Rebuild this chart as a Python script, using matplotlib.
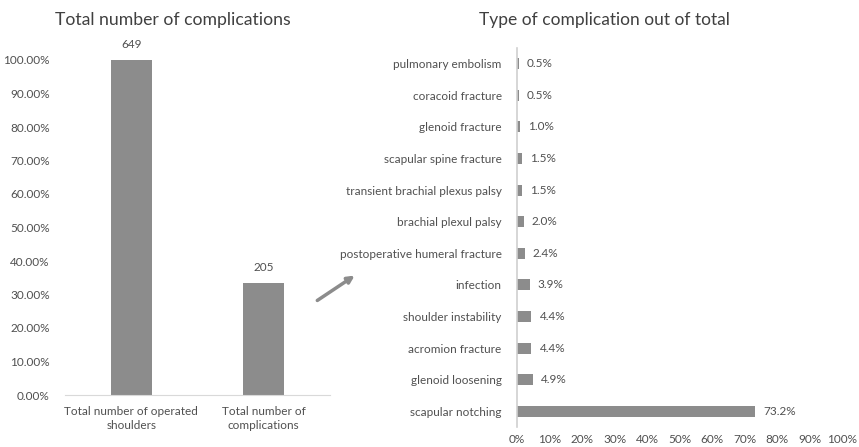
import matplotlib.pyplot as plt
import matplotlib.ticker as mticker

plt.rcParams['font.family'] = ['Lato', 'DejaVu Sans']

# left chart
left_labels = ['Total number of operated\nshoulders', 'Total number of\ncomplications']
left_pct = [100.0, 33.4]
left_counts = ['649', '205']

# right chart (bottom to top)
comp_labels = ['scapular notching', 'glenoid loosening', 'acromion fracture',
               'shoulder instability', 'infection', 'postoperative humeral fracture',
               'brachial plexul palsy', 'transient brachial plexus palsy',
               'scapular spine fracture', 'glenoid fracture', 'coracoid fracture',
               'pulmonary embolism']
comp_pct = [73.2, 4.9, 4.4, 4.4, 3.9, 2.4, 2.0, 1.5, 1.5, 1.0, 0.5, 0.5]

bar_c = '#8c8c8c'
txt_c = '#505050'

fig = plt.figure(figsize=(8.59, 4.47), dpi=100)

ax1 = fig.add_axes([65/859, 1-395/447, 265/859, 335/447])
x = range(len(left_labels))
ax1.bar(x, left_pct, width=0.31, color=bar_c)
for i, (v, c) in enumerate(zip(left_pct, left_counts)):
    ax1.text(i, v + 3, c, ha='center', va='bottom', fontsize=8.5, color=txt_c)
ax1.set_xlim(-0.5, 1.5)
ax1.set_ylim(0, 100)
ax1.set_yticks(range(0, 101, 10))
ax1.yaxis.set_major_formatter(mticker.FuncFormatter(lambda v, p: '%.2f%%' % v))
ax1.set_xticks(list(x))
ax1.set_xticklabels(left_labels, fontsize=8.5, color=txt_c, linespacing=1.35)
ax1.tick_params(axis='y', labelsize=8.5, labelcolor=txt_c, length=0, pad=11)
ax1.tick_params(axis='x', length=0, pad=8)
for s in ['left', 'right', 'top']:
    ax1.spines[s].set_visible(False)
ax1.spines['bottom'].set_color('#d9d9d9')
fig.text(173/859, 1-20/447, 'Total number of complications', ha='center', va='center',
         fontsize=12.7, color='#404040')

ax2 = fig.add_axes([517/859, 1-427/447, 325/859, 379/447])
y = range(len(comp_labels))
ax2.barh(y, comp_pct, height=0.35, color=bar_c)
for i, v in enumerate(comp_pct):
    ax2.text(v + 2.5, i, '%.1f%%' % v, ha='left', va='center', fontsize=8.5, color=txt_c)
ax2.set_xlim(0, 100)
ax2.set_ylim(-0.5, 11.5)
ax2.set_yticks(list(y))
ax2.set_yticklabels(comp_labels, fontsize=8.5, color=txt_c)
ax2.set_xticks(range(0, 101, 10))
ax2.xaxis.set_major_formatter(mticker.FuncFormatter(lambda v, p: '%d%%' % v))
ax2.tick_params(axis='x', labelsize=8.5, labelcolor=txt_c, length=0, pad=5)
ax2.tick_params(axis='y', length=0, pad=11)
for s in ['bottom', 'right', 'top']:
    ax2.spines[s].set_visible(False)
ax2.spines['left'].set_color('#d0d0d0')
ax2.spines['left'].set_linewidth(1.2)
fig.text(604/859, 1-20/447, 'Type of complication out of total', ha='center', va='center',
         fontsize=12.5, color='#404040')

# arrow between the two charts
fig.patches.append(plt.matplotlib.patches.FancyArrowPatch(
    (315/859, 1-302/447), (357/859, 1-274/447), transform=fig.transFigure,
    arrowstyle='-|>', mutation_scale=10, color=bar_c, linewidth=2.5))

fig.savefig('out.png', dpi=100)
